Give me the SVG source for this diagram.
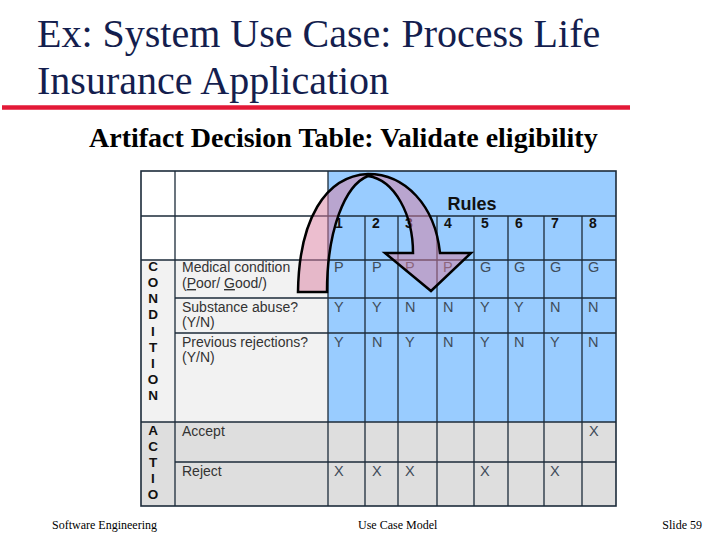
<svg xmlns="http://www.w3.org/2000/svg" width="720" height="540" viewBox="0 0 720 540">
<style>
.title{font-family:"Liberation Serif","Times New Roman",serif;font-size:40px;fill:#141E4E}
.sub{font-family:"Liberation Serif","Times New Roman",serif;font-size:28px;font-weight:bold;fill:#000}
.foot{font-family:"Liberation Serif","Times New Roman",serif;font-size:12px;fill:#000}
.lbl{font-family:"Liberation Sans",Arial,sans-serif;font-size:14px;fill:#333}
.val{font-family:"Liberation Sans",Arial,sans-serif;font-size:14.5px;fill:#3F4C5A}
.num{font-family:"Liberation Sans",Arial,sans-serif;font-size:14px;font-weight:bold;fill:#111}
.let{font-family:"Liberation Sans",Arial,sans-serif;font-size:13.5px;font-weight:bold;fill:#111;text-anchor:middle}
.grid{stroke:#1C2B3A;stroke-width:1.3;fill:none}
</style>
<rect width="720" height="540" fill="#fff"/>
<g id="title">
<text class="title" x="37" y="47">Ex: System Use Case: Process Life</text>
<text class="title" x="37" y="94">Insurance Application</text>
<line x1="2" y1="107.5" x2="630" y2="107.5" stroke="#E31937" stroke-width="4.5"/>
<text class="sub" x="89" y="147">Artifact Decision Table: Validate eligibility</text>
</g>
<g id="table">
<rect x="141" y="171" width="187" height="89" fill="#fff"/>
<rect x="328" y="171" width="288" height="251" fill="#99CCFF"/>
<rect x="141" y="260" width="187" height="162" fill="#F2F2F2"/>
<rect x="141" y="422" width="475" height="84" fill="#DEDEDE"/>
<g class="grid">
<path d="M141,216H616M141,260H616M175,298H616M175,333H616M141,422H616M175,462H616"/>
<path d="M175,171V506M328,171V506M365,216V506M398,216V506M437,216V506M474,216V506M508,216V506M544,216V506M582,216V506"/>
<rect x="141" y="171" width="475" height="335" stroke-width="1.6"/>
</g>
<text x="472" y="210" text-anchor="middle" style="font-family:'Liberation Sans',Arial,sans-serif;font-size:18px;font-weight:bold;fill:#111">Rules</text>
<g class="num">
<text x="335" y="228">1</text><text x="372" y="228">2</text><text x="405" y="228">3</text><text x="444" y="228">4</text>
<text x="481" y="228">5</text><text x="515" y="228">6</text><text x="551" y="228">7</text><text x="589" y="228">8</text>
</g>
<g class="let">
<text x="153" y="271">C</text><text x="153" y="287">O</text><text x="153" y="303">N</text><text x="153" y="319">D</text>
<text x="153" y="336">I</text><text x="153" y="352">T</text><text x="153" y="368">I</text><text x="153" y="384">O</text><text x="153" y="400">N</text>
<text x="153" y="435">A</text><text x="153" y="451">C</text><text x="153" y="467">T</text><text x="153" y="483">I</text><text x="153" y="499">O</text>
</g>
<g class="lbl">
<text x="182" y="272">Medical condition</text>
<text x="182" y="288">(<tspan text-decoration="underline">P</tspan>oor/ <tspan text-decoration="underline">G</tspan>ood/)</text>
<text x="182" y="312">Substance abuse?</text>
<text x="182" y="327">(Y/N)</text>
<text x="182" y="347">Previous rejections?</text>
<text x="182" y="362">(Y/N)</text>
<text x="182" y="436">Accept</text>
<text x="182" y="476">Reject</text>
</g>
<g class="val">
<text x="334" y="272">P</text><text x="372" y="272">P</text><text x="405" y="272">P</text><text x="443" y="272">P</text>
<text x="480" y="272">G</text><text x="514" y="272">G</text><text x="550" y="272">G</text><text x="588" y="272">G</text>
<text x="334" y="312">Y</text><text x="372" y="312">Y</text><text x="405" y="312">N</text><text x="443" y="312">N</text>
<text x="480" y="312">Y</text><text x="514" y="312">Y</text><text x="550" y="312">N</text><text x="588" y="312">N</text>
<text x="334" y="347">Y</text><text x="372" y="347">N</text><text x="405" y="347">Y</text><text x="443" y="347">N</text>
<text x="480" y="347">Y</text><text x="514" y="347">N</text><text x="550" y="347">Y</text><text x="588" y="347">N</text>
<text x="589" y="436">X</text>
<text x="334" y="476">X</text><text x="372" y="476">X</text><text x="405" y="476">X</text>
<text x="480" y="476">X</text><text x="550" y="476">X</text>
</g>
</g>
<g id="connectors">
<path id="curved-arrow" d="M298,292 C299,220 325,176 368,174 C405,174 435,205 440,253 L471,253 L431,291 L385,253 L413,253 C413,215 395,180 368,176 C345,185 327,230 327,292 Z" fill="#D97DA0" fill-opacity="0.5" stroke="#000" stroke-width="2.5" stroke-linejoin="miter"/>
</g>
<g id="footer">
<text class="foot" x="52" y="529">Software Engineering</text>
<text class="foot" x="358" y="529">Use Case Model</text>
<text class="foot" x="702" y="529" text-anchor="end">Slide 59</text>
</g>
</svg>
